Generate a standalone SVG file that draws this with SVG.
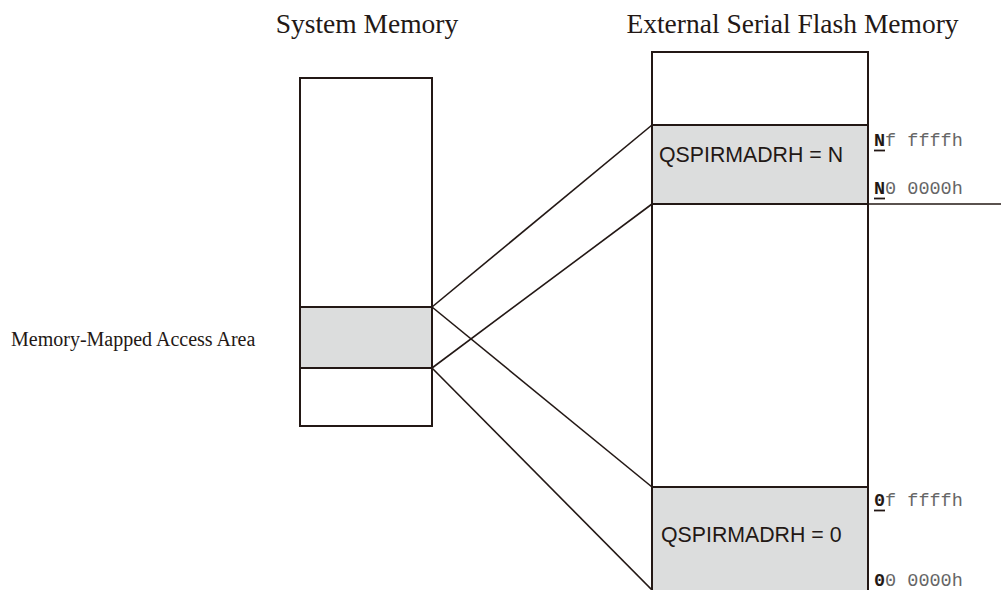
<svg xmlns="http://www.w3.org/2000/svg" width="1001" height="590" viewBox="0 0 1001 590">
<style>
.box{fill:#fff;stroke:#231815;stroke-width:2}
.gray{fill:#dcdddd;stroke:#231815;stroke-width:2}
.ln{stroke:#231815;stroke-width:1.6;fill:none}
.title{font-family:"Liberation Serif",serif;font-size:27.5px;fill:#231815}
.lab{font-family:"Liberation Serif",serif;font-size:20px;fill:#231815}
.reg{font-family:"Liberation Sans",sans-serif;font-size:21.3px;fill:#231815}
.mono{font-family:"Liberation Mono",monospace;font-size:18.5px;fill:#666}
.b{font-weight:bold;fill:#231815}
.ul{stroke:#231815;stroke-width:1.8}
</style>
<rect width="1001" height="590" fill="#fff"/>
<text class="title" x="367" y="33" text-anchor="middle">System Memory</text>
<text class="title" x="792.5" y="33" text-anchor="middle">External Serial Flash Memory</text>
<g id="system-memory">
<rect class="box" x="300" y="78" width="132" height="348"/>
<rect class="gray" x="300" y="307" width="132" height="61"/>
</g>
<g id="access-area-label">
<text class="lab" x="11" y="346">Memory-Mapped Access Area</text>
</g>
<g id="flash-memory">
<rect class="box" x="652" y="52" width="216" height="545"/>
<rect class="gray" x="652" y="125" width="216" height="79"/>
<rect class="gray" x="652" y="487" width="216" height="110"/>
<text class="reg" x="659" y="162">QSPIRMADRH = N</text>
<text class="reg" x="661" y="542">QSPIRMADRH = 0</text>
</g>
<g id="addresses">
<text class="mono" x="874" y="145.5"><tspan class="b">N</tspan>f ffffh</text>
<line class="ul" x1="874" y1="150.5" x2="885" y2="150.5"/>
<text class="mono" x="874" y="194"><tspan class="b">N</tspan>0 0000h</text>
<line class="ul" x1="874" y1="198.5" x2="885" y2="198.5"/>
<text class="mono" x="874" y="505.5"><tspan class="b">0</tspan>f ffffh</text>
<line class="ul" x1="874" y1="510.5" x2="885" y2="510.5"/>
<text class="mono" x="874" y="586"><tspan class="b">0</tspan>0 0000h</text>
</g>
<g id="connectors">
<line class="ln" x1="868" y1="204" x2="1001" y2="204" stroke-width="1"/>
<line class="ln" x1="432" y1="307" x2="652" y2="125"/>
<line class="ln" x1="432" y1="368" x2="652" y2="204"/>
<line class="ln" x1="432" y1="307" x2="652" y2="487"/>
<line class="ln" x1="432" y1="368" x2="654" y2="592"/>
</g>
</svg>
